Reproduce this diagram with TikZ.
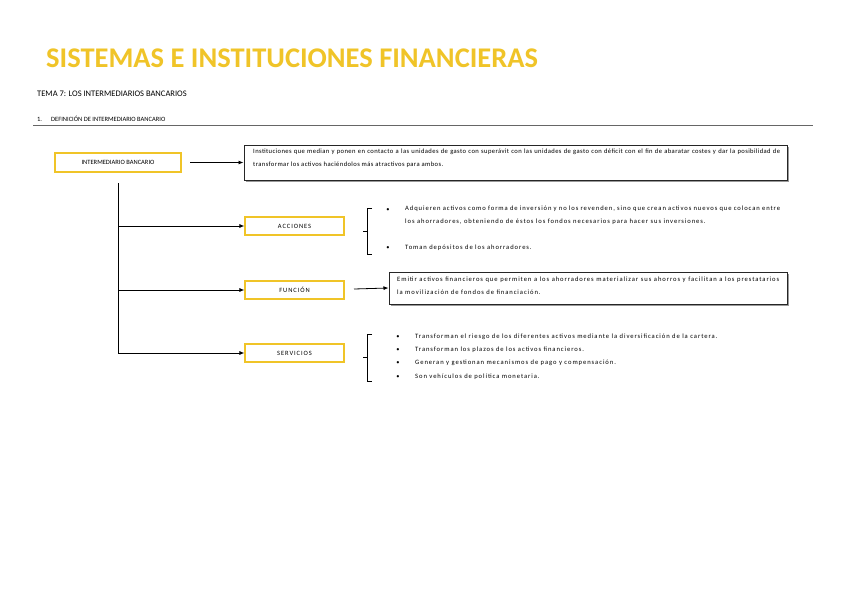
\documentclass[tikz,border=0pt]{standalone}
\usepackage{fontspec}
\setmainfont{Carlito}
\newfontfamily\spaced[LetterSpace=14]{Carlito}
\usetikzlibrary{arrows.meta}
\definecolor{gold}{RGB}{240,196,40}
\newcommand{\nohy}{\hyphenpenalty=10000\relax}
\tikzset{
  ybox/.style={draw=gold,line width=1.1pt,fill=white,minimum width=99pt,minimum height=18pt,inner sep=0pt,font=\spaced\fontsize{6.5}{8}\selectfont},
  dbox/.style={draw=black!85,line width=1pt,fill=white,inner sep=0pt},
  txt/.style={align=justify,font=\spaced\fontsize{6.6}{13}\selectfont\nohy,inner sep=0pt,anchor=north west},
  arr/.style={-{Latex[length=5pt,width=4pt]},line width=0.8pt},
  brk/.style={line width=0.7pt}
}
\begin{document}
\begin{tikzpicture}[x=1pt,y=-1pt]
\useasboundingbox[fill=white] (0,0) rectangle (848,599);
\node[anchor=west,inner sep=0pt,font=\bfseries\fontsize{28.5}{32}\selectfont,text=gold] (title) at (46,58) {SISTEMAS E INSTITUCIONES FINANCIERAS};
\node[anchor=west,inner sep=0pt,font=\fontsize{8.5}{10}\selectfont] (tema) at (37,94) {TEMA 7: LOS INTERMEDIARIOS BANCARIOS};
\node[anchor=west,inner sep=0pt,font=\fontsize{6.5}{8}\selectfont] (sec) at (37,118.5) {1.\hspace{9pt}DEFINICIÓN DE INTERMEDIARIO BANCARIO};
\draw[black!60,line width=1pt] (33,126) coordinate (r1) -- (813,126) coordinate (r2);

\node[ybox,minimum width=126pt,minimum height=19pt,font=\fontsize{6.5}{8}\selectfont] (ib) at (118,162.5) {INTERMEDIARIO BANCARIO};
\fill[black!40] (246,147) rectangle (789,182);
\node[dbox,minimum width=543pt,minimum height=35pt] (def) at (515.5,162.5) {};
\node[txt,text width=527pt,font=\fontsize{6.6}{13}\selectfont\addfontfeatures{LetterSpace=6}\nohy] (deft) at (253,149) {Instituciones que median y ponen en contacto a las unidades de gasto con superávit con las unidades de gasto con déficit con el fin de abaratar costes y dar la posibilidad de transformar los activos haciéndolos más atractivos para ambos.\par};
\draw[arr] (190,162.5) coordinate (a1) -- (def.west);

\node[ybox] (acc) at (294.5,226) {ACCIONES};
\node[ybox] (fun) at (294.5,290) {FUNCIÓN};
\node[ybox] (ser) at (294.5,353) {SERVICIOS};
\draw[line width=0.8pt] (118,183) coordinate (v0) -- (118,353) coordinate (v3);
\coordinate (v1) at (118,226);
\coordinate (v2) at (118,290);
\draw[arr] (v1) -- (acc.west);
\draw[arr] (v2) -- (fun.west);
\draw[arr] (v3) -- (ser.west);

% acciones bracket
\draw[brk] (372,208) coordinate (b1) -- (367,208) -- (367,254) -- (372,254);
\draw[brk] (367,231) -- (363,231);
\node[inner sep=0pt,font=\fontsize{6.4}{8}\selectfont] (bu1) at (388,210) {•};
\node[inner sep=0pt,font=\fontsize{6.4}{8}\selectfont] (bu2) at (388,248) {•};
\node[txt,text width=375pt] (acct) at (405,205.5) {Adquieren activos como forma de inversión y no los revenden, sino que crean activos nuevos que colocan entre los ahorradores, obteniendo de éstos los fondos necesarios para hacer sus inversiones.\par};
\node[txt,anchor=west] (acct2) at (405,248) {Toman depósitos de los ahorradores.};

% funcion
\fill[black!40] (391,274) rectangle (789,306);
\node[dbox,minimum width=398pt,minimum height=32pt] (fbox) at (588,288) {};
\node[txt,text width=382pt] (ft) at (397,276.5) {Emitir activos financieros que permiten a los ahorradores materializar sus ahorros y facilitan a los prestatarios la movilización de fondos de financiación.\par};
\draw[arr] (354,289) coordinate (a2) -- (fbox.west);

% servicios
\draw[brk] (372,334) coordinate (b2) -- (367,334) -- (367,381) -- (372,381);
\draw[brk] (367,357) -- (363,357);
\foreach \y/\t [count=\i] in {337/Transforman el riesgo de los diferentes activos mediante la diversificación de la cartera.,
  350/Transforman los plazos de los activos financieros.,
  363/Generan y gestionan mecanismos de pago y compensación.,
  377/Son vehículos de política monetaria.}{
  \node[inner sep=0pt,font=\fontsize{6.4}{8}\selectfont] (sb\i) at (398,\y) {•};
  \node[txt,anchor=west] (st\i) at (415,\y) {\t};
}
\end{tikzpicture}
\end{document}
